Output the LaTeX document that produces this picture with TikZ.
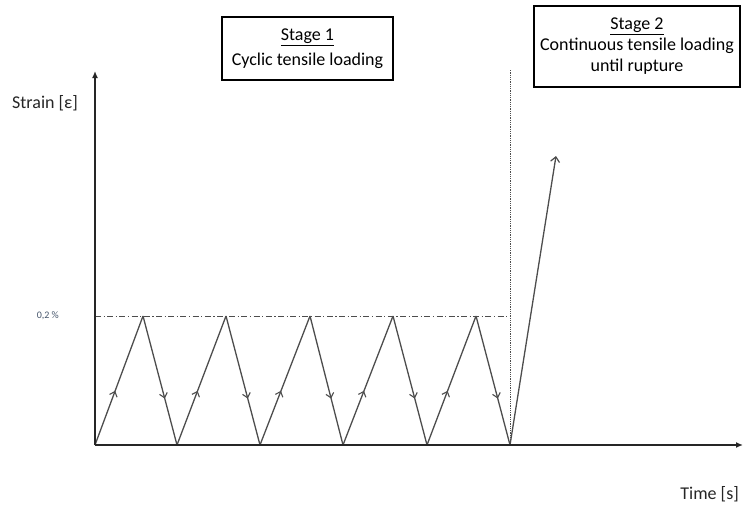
\documentclass[tikz,border=0pt]{standalone}
\usepackage{fontspec}
\setmainfont{Carlito}
\usetikzlibrary{arrows.meta,decorations.markings}
\definecolor{axisc}{HTML}{262626}
\definecolor{linec}{HTML}{4D4D4D}
\definecolor{lblc}{HTML}{44546A}
\tikzset{
  axis/.style={line width=1.8pt, draw=axisc, -{Latex[length=7pt,width=6pt]}},
  zig/.style={line width=1.3pt, draw=linec},
  upmark/.style={zig, postaction={decorate}, decoration={markings,
     mark=at position 0.42 with {\arrow[linec,line width=1.1pt]{Straight Barb[length=4.5pt,width=8pt]}}}},
  downmark/.style={zig, postaction={decorate}, decoration={markings,
     mark=at position 0.64 with {\arrow[linec,line width=1.1pt]{Straight Barb[length=4.5pt,width=8pt]}}}},
  stagebox/.style={draw=black, line width=1.4pt, align=center, inner sep=0pt, font=\fontsize{18}{22}\selectfont},
  lbl/.style={font=\fontsize{18}{22}\selectfont, text=axisc, inner sep=0pt}
}
\begin{document}
\begin{tikzpicture}[x=1pt,y=-1pt]
\useasboundingbox (0,0) rectangle (743,506);
% named points
\coordinate (O) at (95,445);
\coordinate (ytop) at (95,71);
\coordinate (xend) at (743,445);
\coordinate (lvlL) at (95,316);
\coordinate (lvlR) at (510,316);
\coordinate (v0) at (95,445);
\coordinate (p1) at (143,316);
\coordinate (v1) at (177,445);
\coordinate (p2) at (226,316);
\coordinate (v2) at (260,445);
\coordinate (p3) at (310,316);
\coordinate (v3) at (343,445);
\coordinate (p4) at (393,316);
\coordinate (v4) at (427,445);
\coordinate (p5) at (476,316);
\coordinate (v5) at (510,445);
\coordinate (dtop) at (510,70);
\coordinate (rup) at (556,156);

% stage 2 divider
\draw[linec, line width=0.8pt, densely dotted] (v5) -- (dtop);
% level line
\draw[linec, line width=0.9pt, dash pattern=on 6pt off 2.5pt on 1.2pt off 2.5pt] (lvlL) -- (lvlR);

% zigzag
\draw[upmark] (v0) -- (p1);
\draw[downmark] (p1) -- (v1);
\draw[upmark] (v1) -- (p2);
\draw[downmark] (p2) -- (v2);
\draw[upmark] (v2) -- (p3);
\draw[downmark] (p3) -- (v3);
\draw[upmark] (v3) -- (p4);
\draw[downmark] (p4) -- (v4);
\draw[upmark] (v4) -- (p5);
\draw[downmark] (p5) -- (v5);
\draw[zig, -{Straight Barb[length=5pt,width=9pt,line width=1.2pt]}] (v5) -- (rup);

% axes
\draw[axis] (O) -- (ytop);
\draw[axis] (O) -- (xend);

% labels
\node[lbl, anchor=west] (ylab) at (12,103) {Strain [ε]};
\node[lbl, anchor=east] (xlab) at (739,494) {Time [s]};
\node[font=\fontsize{10}{12}\selectfont, text=lblc, anchor=east, inner sep=0pt] (lv) at (59,316) {0,2 \%};

% stage boxes
\node[stagebox, minimum width=171pt, minimum height=63pt] (s1) at (307.5,48.5)
  {\underline{Stage 1}\\[3pt]Cyclic tensile loading};
\node[stagebox, minimum width=206pt, minimum height=81pt] (s2) at (637,46.5)
  {\underline{Stage 2}\\[-1pt]Continuous tensile loading\\[-1pt]until rupture};
\end{tikzpicture}
\end{document}
